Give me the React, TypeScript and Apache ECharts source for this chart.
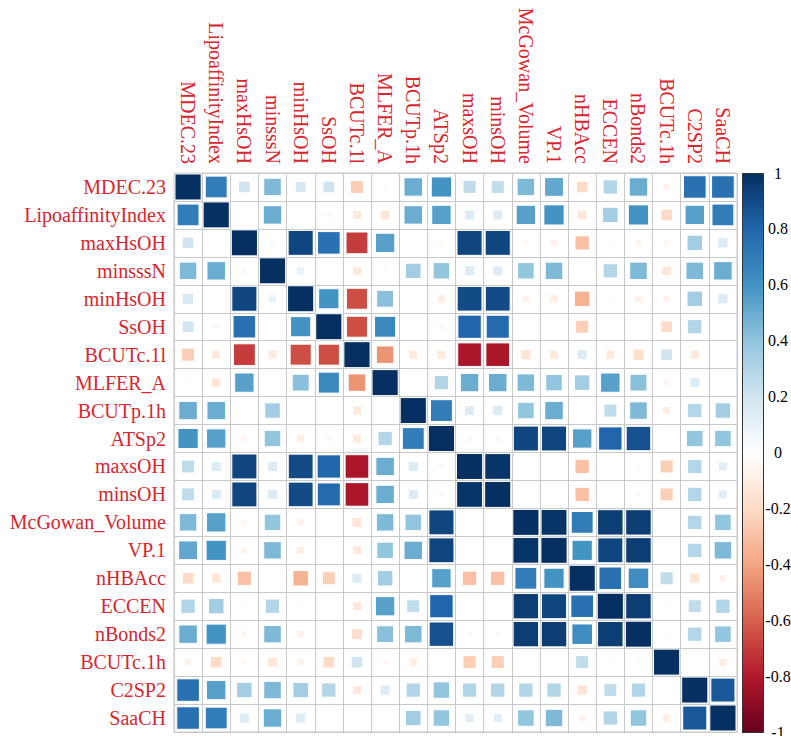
import React, { useEffect, useRef } from "react";
import * as echarts from "echarts";

const variables = [
  "MDEC.23", "LipoaffinityIndex", "maxHsOH", "minsssN", "minHsOH", "SsOH",
  "BCUTc.1l", "MLFER_A", "BCUTp.1h", "ATSp2", "maxsOH", "minsOH",
  "McGowan_Volume", "VP.1", "nHBAcc", "ECCEN", "nBonds2", "BCUTc.1h",
  "C2SP2", "SaaCH",
];

// correlation matrix rows (same order as variables)
const corrMatrix: number[][] = [
  [1, .70, .20, .45, .18, .20, -.25, .03, .50, .60, .25, .25, .45, .52, -.20, .30, .50, -.08, .75, .75],
  [.70, 1, .02, .50, .01, -.05, -.12, -.14, .50, .55, .15, .15, .55, .60, -.14, .35, .60, -.20, .55, .70],
  [.20, .02, 1, .05, .92, .75, -.70, .55, .00, -.05, .92, .92, -.05, -.07, -.30, -.03, -.06, -.05, .35, .15],
  [.45, .50, .05, 1, .10, .00, -.12, -.03, .35, .40, .15, .15, .40, .45, .00, .30, .45, -.14, .45, .50],
  [.18, .01, .92, .10, 1, .60, -.65, .42, .00, -.10, .90, .90, -.08, -.10, -.35, -.03, -.08, -.08, .35, .15],
  [.20, -.05, .75, .00, .60, 1, -.65, .65, .02, -.05, .80, .78, .00, .00, -.25, .00, .00, -.20, .30, .00],
  [-.25, -.12, -.70, -.12, -.65, -.65, 1, -.45, -.12, -.12, -.82, -.82, -.15, -.12, .15, -.12, -.18, .20, -.12, .02],
  [.03, -.14, .55, -.03, .42, .65, -.45, 1, .00, .30, .50, .50, .45, .40, .35, .55, .42, -.05, .15, .00],
  [.50, .50, .00, .35, .00, .02, -.12, .00, 1, .70, .15, .15, .40, .50, .00, .25, .45, -.10, .30, .35],
  [.60, .55, -.05, .40, -.10, -.05, -.12, .30, .70, 1, .05, .05, .92, .92, .55, .80, .88, .00, .40, .40],
  [.25, .15, .92, .15, .90, .80, -.82, .50, .15, .05, 1, .98, .01, .01, -.30, .01, .04, -.25, .30, .12],
  [.25, .15, .92, .15, .90, .78, -.82, .50, .15, .05, .98, 1, .01, .01, -.30, .01, .04, -.25, .30, .12],
  [.45, .55, -.05, .40, -.08, .00, -.15, .45, .40, .92, .01, .01, 1, .98, .70, .95, .95, .00, .30, .40],
  [.52, .60, -.07, .45, -.10, .00, -.12, .40, .50, .92, .01, .01, .98, 1, .60, .92, .95, -.02, .30, .45],
  [-.20, -.14, -.30, .00, -.35, -.25, .15, .35, .00, .55, -.30, -.30, .70, .60, 1, .75, .62, .25, -.15, -.08],
  [.30, .35, -.03, .30, -.03, .00, -.12, .55, .25, .80, .01, .01, .95, .92, .75, 1, .95, .03, .25, .30],
  [.50, .60, -.06, .45, -.08, .00, -.18, .42, .45, .88, .04, .04, .95, .95, .62, .95, 1, -.03, .30, .40],
  [-.08, -.20, -.05, -.14, -.08, -.20, .20, -.05, -.10, .00, -.25, -.25, .00, -.02, .25, .03, -.03, 1, .00, -.10],
  [.75, .55, .35, .45, .35, .30, -.12, .15, .30, .40, .30, .30, .30, .30, -.15, .25, .30, .00, 1, .85],
  [.75, .70, .15, .50, .15, .00, .02, .00, .35, .40, .12, .12, .40, .45, -.08, .30, .40, -.10, .85, 1],
];

const palette = [
  "#67001F", "#B2182B", "#D6604D", "#F4A582", "#FDDBC7", "#FFFFFF",
  "#D1E5F0", "#92C5DE", "#4393C3", "#2166AC", "#053061",
];

const LABEL_RED = "#d7262e";
const SERIF = "'Liberation Serif', 'Times New Roman', serif";

export default function App() {
  const ref = useRef<HTMLDivElement>(null);

  useEffect(() => {
    if (!ref.current) return;
    const chart = echarts.init(ref.current, undefined, { renderer: "svg" });

    const data: number[][] = [];
    corrMatrix.forEach((row, r) => {
      row.forEach((v, c) => data.push([c, r, v]));
    });

    const G = { left: 174, top: 173, width: 563, height: 559 };
    const CB = { left: 742, top: 173, width: 21, height: 559 };

    const stops = palette
      .slice()
      .reverse()
      .map((color, i) => ({ offset: i / (palette.length - 1), color }));

    chart.setOption({
      animation: false,
      backgroundColor: "#ffffff",
      grid: [
        { ...G, show: true, borderColor: "#c8c8c8", borderWidth: 1, containLabel: false, outerBoundsMode: "none" },
        { ...CB, show: false, containLabel: false, outerBoundsMode: "none" },
      ],
      xAxis: [
        {
          type: "category",
          data: variables,
          position: "top",
          gridIndex: 0,
          axisLine: { show: false },
          axisTick: { show: false },
          splitLine: { show: true, interval: 0, lineStyle: { color: "#c8c8c8", width: 1 } },
          axisLabel: {
            interval: 0,
            rotate: 90,
            align: "right",
            verticalAlign: "middle",
            margin: 9,
            color: LABEL_RED,
            fontSize: 20,
            fontFamily: SERIF,
          },
        },
        { type: "value", gridIndex: 1, show: false, min: 0, max: 1 },
      ],
      yAxis: [
        {
          type: "category",
          data: variables,
          inverse: true,
          gridIndex: 0,
          axisLine: { show: false },
          axisTick: { show: false },
          splitLine: { show: true, interval: 0, lineStyle: { color: "#c8c8c8", width: 1 } },
          axisLabel: {
            interval: 0,
            margin: 8,
            color: LABEL_RED,
            fontSize: 20,
            fontFamily: SERIF,
          },
        },
        {
          type: "value",
          gridIndex: 1,
          position: "right",
          min: -1,
          max: 1,
          interval: 0.2,
          axisLine: { show: false },
          axisTick: { show: true, length: 3, lineStyle: { color: "#333" } },
          splitLine: { show: false },
          axisLabel: {
            margin: 15,
            align: "center",
            color: "#000",
            fontSize: 16,
            fontFamily: SERIF,
            formatter: (v: number) => String(Math.round(v * 10) / 10),
          },
        },
      ],
      visualMap: {
        show: false,
        type: "continuous",
        min: -1,
        max: 1,
        dimension: 2,
        seriesIndex: 0,
        inRange: { color: palette },
      },
      graphic: [
        {
          type: "rect",
          left: CB.left,
          top: CB.top,
          shape: { x: 0, y: 0, width: CB.width, height: CB.height },
          style: {
            fill: new echarts.graphic.LinearGradient(0, 0, 0, 1, stops),
            stroke: "#333",
            lineWidth: 1,
          },
          z: 10,
        },
      ],
      series: [
        {
          type: "custom",
          xAxisIndex: 0,
          yAxisIndex: 0,
          data,
          encode: { x: 0, y: 1 },
          renderItem: (params: any, api: any) => {
            const x = api.value(0);
            const y = api.value(1);
            const v = api.value(2);
            const c = api.coord([x, y]);
            const size = api.size([1, 1]);
            const s = Math.sqrt(Math.abs(v)) * 0.93;
            const w = size[0] * s;
            const h = size[1] * s;
            return {
              type: "rect",
              shape: { x: c[0] - w / 2, y: c[1] - h / 2, width: w, height: h },
              style: { fill: api.visual("color"), stroke: "#ffffff", lineWidth: 1 },
            };
          },
        },
      ],
    });

    return () => chart.dispose();
  }, []);

  return (
    <div
      ref={ref}
      style={{ position: "fixed", left: 0, top: 0, width: 791, height: 736 }}
    />
  );
}
